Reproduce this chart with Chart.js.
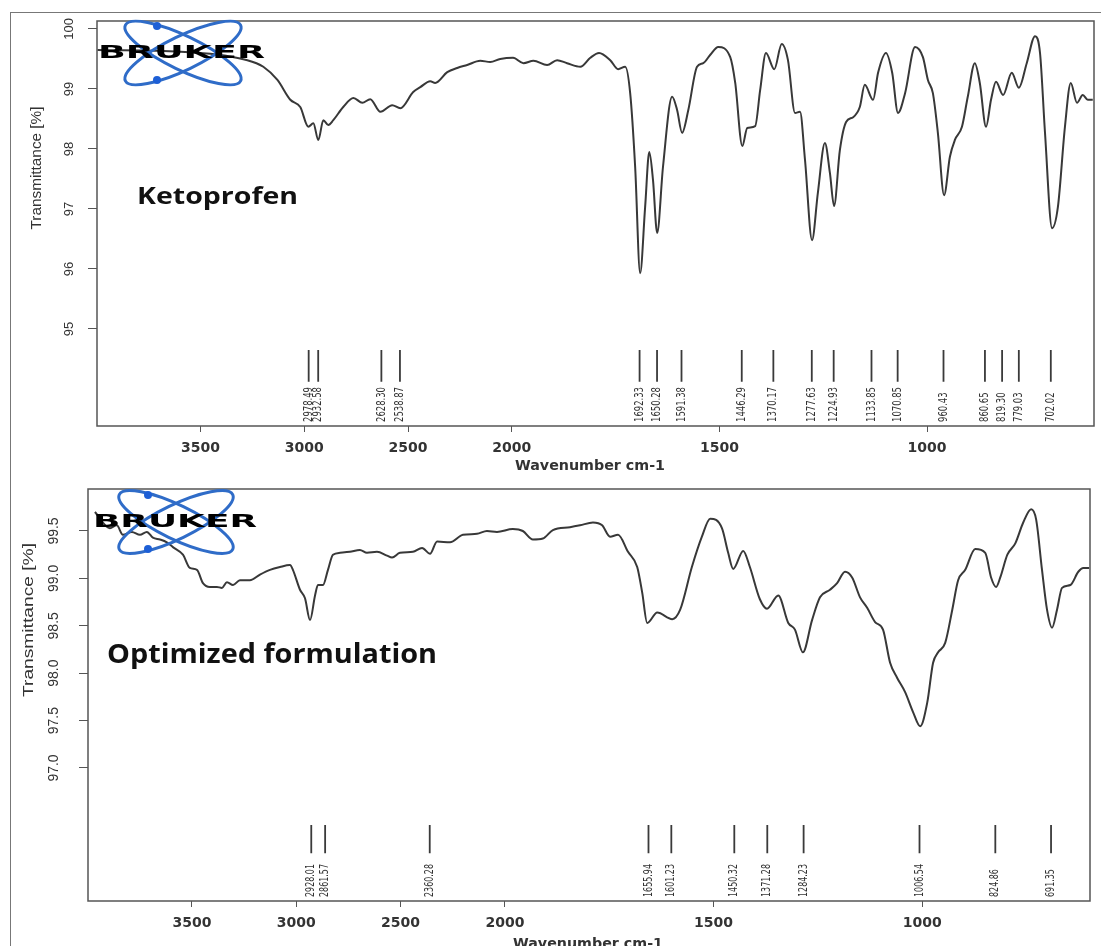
<!DOCTYPE html>
<html>
<head>
<meta charset="utf-8">
<title>FTIR spectra</title>
<script src="https://cdn.jsdelivr.net/npm/chart.js@4.4.0/dist/chart.umd.min.js"></script>
<style>
  html, body { margin: 0; padding: 0; background: #fff; }
  #frame { position: absolute; left: 10px; top: 12px; width: 1091px; height: 934px;
           border-left: 1px solid #777; border-top: 1px solid #777; box-sizing: border-box; }
  .panel { position: absolute; left: 0; width: 1101px; }
</style>
</head>
<body>
<div id="frame"></div>
<div class="panel" style="top:0;height:475px"><canvas id="ketoChart"></canvas></div>
<div class="panel" style="top:475px;height:471px"><canvas id="formChart"></canvas></div>
<script>
// --- data (wavenumber cm-1 / transmittance %) ---
const ketoWavenumber = [
  3996, 3596, 3274, 3197, 3129, 3067, 3019, 2980, 2956, 2932,
  2908, 2884, 2860, 2812, 2763, 2720, 2682, 2633, 2576, 2537,
  2475, 2441, 2393, 2369, 2311, 2263, 2215, 2152, 2104, 2056,
  1997, 1972, 1948, 1915, 1891, 1867, 1835, 1811, 1790, 1763,
  1744, 1727, 1715, 1703, 1691, 1679, 1669, 1660, 1650, 1636,
  1614, 1602, 1590, 1575, 1554, 1539, 1522, 1503, 1474, 1462,
  1445, 1433, 1414, 1402, 1388, 1368, 1350, 1335, 1318, 1306,
  1294, 1277, 1263, 1246, 1234, 1224, 1210, 1195, 1178, 1162,
  1150, 1130, 1118, 1099, 1084, 1070, 1053, 1029, 1010, 998,
  986, 974, 959, 945, 933, 916, 902, 885, 873, 858,
  846, 834, 817, 796, 779, 760, 740, 728, 716, 699,
  685, 668, 654, 639, 625, 613, 601
];
const ketoTransmittance = [
  99.65, 99.62, 99.48, 99.37, 99.15, 98.82, 98.70, 98.37, 98.43, 98.15,
  98.48, 98.40, 98.48, 98.70, 98.85, 98.77, 98.83, 98.62, 98.73, 98.68,
  98.95, 99.03, 99.13, 99.10, 99.28, 99.35, 99.40, 99.47, 99.45, 99.50,
  99.52, 99.43, 99.47, 99.40, 99.48, 99.43, 99.37, 99.52, 99.60, 99.48,
  99.33, 99.37, 98.93, 97.70, 95.93, 97.03, 97.95, 97.48, 96.60, 97.70,
  98.87, 98.65, 98.27, 98.65, 99.37, 99.43, 99.57, 99.70, 99.53, 99.10,
  98.05, 98.35, 98.38, 98.98, 99.60, 99.33, 99.75, 99.48, 98.60, 98.62,
  97.82, 96.48, 97.27, 98.10, 97.60, 97.05, 97.98, 98.45, 98.53, 98.70,
  99.07, 98.82, 99.27, 99.60, 99.27, 98.60, 98.93, 99.70, 99.53, 99.15,
  98.93, 98.27, 97.23, 97.87, 98.15, 98.37, 98.87, 99.43, 99.10, 98.37,
  98.82, 99.12, 98.90, 99.27, 99.02, 99.43, 99.88, 99.60, 98.27, 96.68,
  97.03, 98.37, 99.10, 98.77, 98.90, 98.82, 98.82
];
const ketoPeaks = [2978.49, 2932.58, 2628.30, 2538.87, 1692.33, 1650.28, 1591.38, 1446.29, 1370.17,
  1277.63, 1224.93, 1133.85, 1070.85, 960.43, 860.65, 819.30, 779.03, 702.02];

const formWavenumber = [
  3965, 3893, 3860, 3831, 3788, 3749, 3716, 3687, 3653, 3620,
  3591, 3543, 3510, 3476, 3447, 3414, 3380, 3356, 3332, 3303,
  3270, 3222, 3174, 3126, 3078, 3030, 3016, 2982, 2958, 2934,
  2910, 2896, 2872, 2848, 2824, 2790, 2743, 2695, 2661, 2613,
  2565, 2541, 2503, 2441, 2397, 2359, 2325, 2263, 2201, 2134,
  2086, 2038, 1981, 1957, 1933, 1909, 1885, 1844, 1820, 1789,
  1767, 1748, 1729, 1705, 1683, 1671, 1659, 1635, 1599, 1580,
  1552, 1528, 1508, 1480, 1465, 1453, 1429, 1413, 1389, 1372,
  1345, 1321, 1305, 1286, 1264, 1245, 1221, 1204, 1185, 1168,
  1149, 1132, 1113, 1094, 1077, 1060, 1041, 1022, 1005, 988,
  974, 962, 945, 928, 914, 897, 873, 849, 835, 823,
  813, 796, 777, 758, 739, 727, 713, 701, 689, 677,
  665, 645, 626, 614, 600
];
const formTransmittance = [
  99.70, 99.53, 99.56, 99.46, 99.49, 99.46, 99.49, 99.43, 99.41, 99.38,
  99.33, 99.25, 99.11, 99.09, 98.95, 98.91, 98.91, 98.90, 98.96, 98.93,
  98.98, 98.98, 99.04, 99.09, 99.12, 99.14, 99.09, 98.88, 98.79, 98.56,
  98.82, 98.93, 98.93, 99.09, 99.25, 99.27, 99.28, 99.30, 99.27, 99.28,
  99.24, 99.22, 99.27, 99.28, 99.32, 99.26, 99.39, 99.38, 99.46, 99.47,
  99.50, 99.49, 99.52, 99.50, 99.41, 99.42, 99.51, 99.54, 99.56, 99.59,
  99.56, 99.44, 99.46, 99.28, 99.12, 98.85, 98.53, 98.64, 98.57, 98.67,
  99.12, 99.44, 99.63, 99.53, 99.27, 99.10, 99.29, 99.12, 98.78, 98.68,
  98.82, 98.53, 98.46, 98.22, 98.56, 98.80, 98.88, 98.95, 99.07, 99.01,
  98.80, 98.69, 98.54, 98.46, 98.11, 97.95, 97.80, 97.59, 97.44, 97.69,
  98.11, 98.22, 98.32, 98.67, 98.98, 99.09, 99.31, 99.27, 99.01, 98.91,
  99.01, 99.25, 99.37, 99.59, 99.73, 99.62, 99.09, 98.67, 98.48, 98.67,
  98.90, 98.93, 99.07, 99.11, 99.11
];
const formPeaks = [2928.01, 2861.57, 2360.28, 1655.94, 1601.23, 1450.32, 1371.28, 1284.23,
  1006.54, 824.86, 691.35];

const xTickValues = [3500, 3000, 2500, 2000, 1500, 1000];
const ketoYTicks = [95, 96, 97, 98, 99, 100];
const formYTicks = [97.0, 97.5, 98.0, 98.5, 99.0, 99.5];

// OPUS style axis: above 2000 cm-1 the scale is compressed by half
const BREAK = 2000;
const toAxis = w => (w > BREAK ? BREAK + (w - BREAK) / 2 : w);

function fitText(ctx, text, x, y, width, align, rotate) {
  const natural = ctx.measureText(text).width;
  ctx.save();
  ctx.translate(x, y);
  if (rotate) ctx.rotate(-Math.PI / 2);
  ctx.scale(width / natural, 1);
  ctx.textAlign = align;
  ctx.fillText(text, 0, 0);
  ctx.restore();
}

function drawLogo(ctx, g) {
  ctx.save();
  ctx.strokeStyle = '#2f6cc8';
  ctx.lineWidth = 3;
  [g.tilt, -g.tilt].forEach(r => {
    ctx.beginPath();
    ctx.ellipse(g.cx, g.cy, g.rx, g.ry, r, 0, Math.PI * 2);
    ctx.stroke();
  });
  ctx.fillStyle = '#1d5fd6';
  g.dots.forEach(d => {
    ctx.beginPath();
    ctx.arc(g.cx + d[0], g.cy + d[1], 4, 0, Math.PI * 2);
    ctx.fill();
  });
  ctx.fillStyle = '#000';
  ctx.font = 'bold 18px "DejaVu Sans"';
  ctx.textBaseline = 'middle';
  fitText(ctx, 'BRUKER', g.textLeft, g.textCy, g.textWidth, 'left', false);
  ctx.restore();
}

function makeDecor(L, peaks) {
  return {
    id: 'decor',
    afterDatasetsDraw(chart) {
      const { ctx, chartArea: a, scales: { x, y } } = chart;
      ctx.save();
      // plot box
      ctx.strokeStyle = '#555';
      ctx.lineWidth = 1.5;
      ctx.strokeRect(a.left, a.top, a.right - a.left, a.bottom - a.top);

      ctx.fillStyle = '#333';
      ctx.textBaseline = 'middle';
      // y tick labels, rotated like R
      ctx.font = L.yTickFont;
      y.ticks.forEach(t => {
        ctx.save();
        ctx.translate(L.yTickX, y.getPixelForValue(t.value));
        ctx.rotate(-Math.PI / 2);
        ctx.textAlign = 'center';
        ctx.fillText(t.value.toFixed(L.yDecimals), 0, 0);
        ctx.restore();
      });
      // y title
      ctx.font = '14px "Liberation Sans"';
      fitText(ctx, 'Transmittance [%]', L.yTitleX, L.yTitleY, L.yTitleLen, 'center', true);

      // x tick labels + title
      ctx.font = 'bold 14px "DejaVu Sans"';
      ctx.textAlign = 'center';
      xTickValues.forEach(w => {
        ctx.fillText(String(w), x.getPixelForValue(toAxis(w)), a.bottom + L.xTickGap);
      });
      fitText(ctx, 'Wavenumber cm-1', L.xTitleX, a.bottom + L.xTitleGap, 150, 'center', false);

      // peak labels
      ctx.font = '12px "Liberation Sans Narrow", "DejaVu Sans Condensed", sans-serif';
      const s = L.peakLen / ctx.measureText('0000.00').width;
      peaks.forEach(w => {
        ctx.save();
        ctx.translate(x.getPixelForValue(toAxis(w)), L.peakTextBottom);
        ctx.rotate(-Math.PI / 2);
        ctx.scale(s, 1);
        ctx.textAlign = 'left';
        ctx.fillText(w.toFixed(2), 0, 0);
        ctx.restore();
      });

      // sample name
      ctx.fillStyle = '#111';
      ctx.textBaseline = 'alphabetic';
      ctx.font = L.nameFont;
      fitText(ctx, L.name, L.nameX, L.nameY, L.nameWidth, 'left', false);

      drawLogo(ctx, L.logo);
      ctx.restore();
    }
  };
}

function makeChart(id, wn, tr, peaks, yTicks, L) {
  const spectrum = wn.map((w, i) => ({ x: toAxis(w), y: tr[i] }));
  const marks = [];
  peaks.forEach(w => {
    const u = toAxis(w);
    marks.push({ x: u, y: L.markTop }, { x: u, y: L.markBottom }, { x: u, y: null });
  });

  return new Chart(document.getElementById(id), {
    type: 'line',
    data: {
      datasets: [
        { data: spectrum, borderColor: '#383838', borderWidth: 2, pointRadius: 0,
          cubicInterpolationMode: 'monotone', fill: false },
        { data: marks, borderColor: '#3a3a3a', borderWidth: 1.8, pointRadius: 0,
          tension: 0, spanGaps: false, fill: false }
      ]
    },
    options: {
      responsive: true,
      maintainAspectRatio: false,
      animation: false,
      devicePixelRatio: 1,
      layout: { padding: { top: L.padTop, right: L.padRight, left: 0, bottom: 0 } },
      plugins: { legend: { display: false }, tooltip: { enabled: false } },
      scales: {
        x: {
          type: 'linear', reverse: true, min: 598, max: 2999,
          afterBuildTicks: sc => { sc.ticks = xTickValues.map(w => ({ value: toAxis(w) })); },
          afterFit: sc => { sc.height = L.xHeight; },
          ticks: { display: false },
          grid: { drawOnChartArea: false, drawTicks: true, tickLength: 6, color: '#555' },
          border: { display: false }
        },
        y: {
          type: 'linear', min: L.yMin, max: L.yMax,
          afterBuildTicks: sc => { sc.ticks = yTicks.map(v => ({ value: v })); },
          afterFit: sc => { sc.width = L.yWidth; },
          ticks: { display: false },
          grid: { drawOnChartArea: false, drawTicks: true, tickLength: 9, color: '#555' },
          border: { display: false }
        }
      }
    },
    plugins: [makeDecor(L, peaks)]
  });
}

makeChart('ketoChart', ketoWavenumber, ketoTransmittance, ketoPeaks, ketoYTicks, {
  padTop: 21, padRight: 7, yWidth: 97, xHeight: 49,
  yMin: 93.383, yMax: 100.133, yDecimals: 0,
  yTickFont: '13px "Liberation Sans"', yTickX: 69,
  yTitleX: 37, yTitleY: 168, yTitleLen: 123,
  xTickGap: 22, xTitleX: 590, xTitleGap: 40,
  markTop: 94.65, markBottom: 94.12, peakTextBottom: 422, peakLen: 35,
  name: 'Ketoprofen', nameFont: 'bold 24px "Open Sans"', nameX: 137, nameY: 204, nameWidth: 161,
  logo: { cx: 183, cy: 53, rx: 64, ry: 17, tilt: 0.45, dots: [[-26, -27], [-26, 27]],
          textLeft: 98, textCy: 53, textWidth: 167 }
});

makeChart('formChart', formWavenumber, formTransmittance, formPeaks, formYTicks, {
  padTop: 14, padRight: 11, yWidth: 88, xHeight: 45,
  yMin: 95.597, yMax: 99.943, yDecimals: 1,
  yTickFont: '14px "Liberation Sans"', yTickX: 54,
  yTitleX: 29, yTitleY: 145, yTitleLen: 154,
  xTickGap: 22, xTitleX: 588, xTitleGap: 43,
  markTop: 96.40, markBottom: 96.10, peakTextBottom: 422, peakLen: 33,
  name: 'Optimized formulation', nameFont: 'bold 26px "Open Sans"', nameX: 107, nameY: 188, nameWidth: 330,
  logo: { cx: 176, cy: 47, rx: 63, ry: 17, tilt: 0.45, dots: [[-28, -27], [-28, 27]],
          textLeft: 93, textCy: 47, textWidth: 164 }
});
</script>
</body>
</html>
